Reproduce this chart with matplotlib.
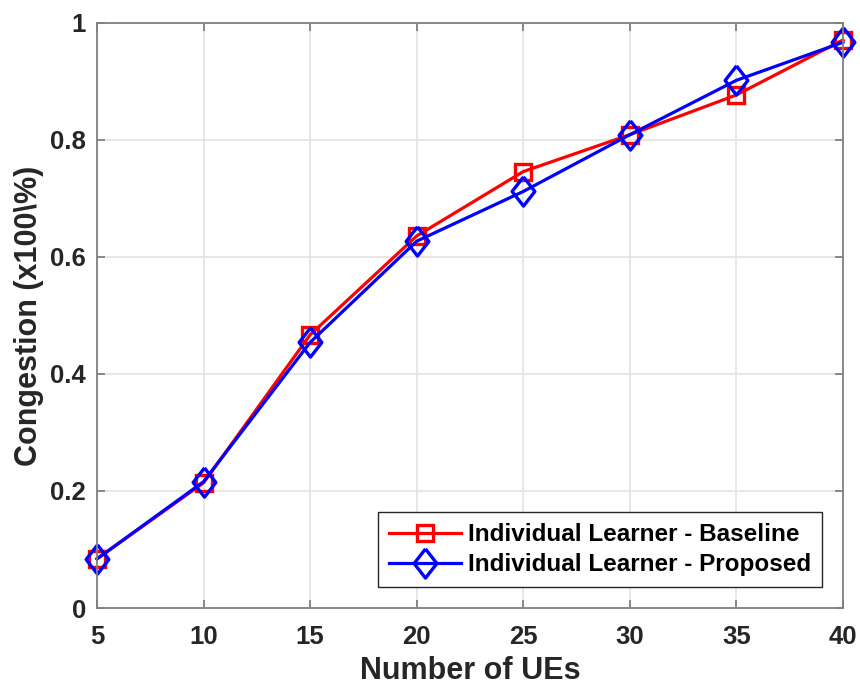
import numpy as np
import matplotlib
matplotlib.use('Agg')
import matplotlib.pyplot as plt

plt.rcParams['font.family'] = ['Liberation Sans', 'DejaVu Sans']
plt.rcParams['font.weight'] = 'bold'

# Data
num_ues = [5, 10, 15, 20, 25, 30, 35, 40]
baseline = [0.084, 0.214, 0.467, 0.636, 0.746, 0.809, 0.877, 0.971]
proposed = [0.084, 0.216, 0.454, 0.627, 0.712, 0.809, 0.902, 0.967]

# MATLAB-like tall diamond
diamond = [(0, 1), (0.78, 0), (0, -1), (-0.78, 0), (0, 1)]

fig = plt.figure(figsize=(8.6, 6.86), dpi=100)
ax = fig.add_axes([0.1128, 0.1137, 0.8674, 0.8528])

ax.plot(num_ues, baseline, color='red', linewidth=2.3, marker='s', markersize=11,
        markerfacecolor='none', markeredgewidth=2.4, clip_on=False,
        label='Individual Learner - Baseline')
ax.plot(num_ues, proposed, color='blue', linewidth=2.3, marker=diamond, markersize=21,
        markerfacecolor='none', markeredgewidth=2.4, clip_on=False,
        label='Individual Learner - Proposed')

ax.set_xlim(5, 40)
ax.set_ylim(0, 1)
ax.set_xticks(num_ues)
ax.set_yticks([0, 0.2, 0.4, 0.6, 0.8, 1])
ax.set_yticklabels(['0', '0.2', '0.4', '0.6', '0.8', '1'])
ax.grid(True, color='#e3e3e3', linewidth=1.2)
ax.set_axisbelow(True)
for s in ax.spines.values():
    s.set_color('#808080')
    s.set_linewidth(1.3)
ax.tick_params(direction='in', length=6, width=1.3, color='#808080',
               labelsize=18.5, labelcolor='#262626', top=True, right=True)
ax.tick_params(axis='x', pad=12)
ax.tick_params(axis='y', pad=8)

ax.set_xlabel('Number of UEs', fontsize=22, fontweight='bold', color='#262626', labelpad=5)
ax.set_ylabel('Congestion (x100\\%)', fontsize=22, fontweight='bold', color='#262626', labelpad=4)

leg = ax.legend(loc='lower right', fontsize=17.5, frameon=True, fancybox=False,
                edgecolor='#262626', handlelength=2.95, borderaxespad=0.85,
                labelspacing=0.3, handletextpad=0.3, borderpad=0.45)
leg.get_frame().set_linewidth(1.0)
leg.get_frame().set_alpha(1)

fig.savefig('out.png', dpi=100)
